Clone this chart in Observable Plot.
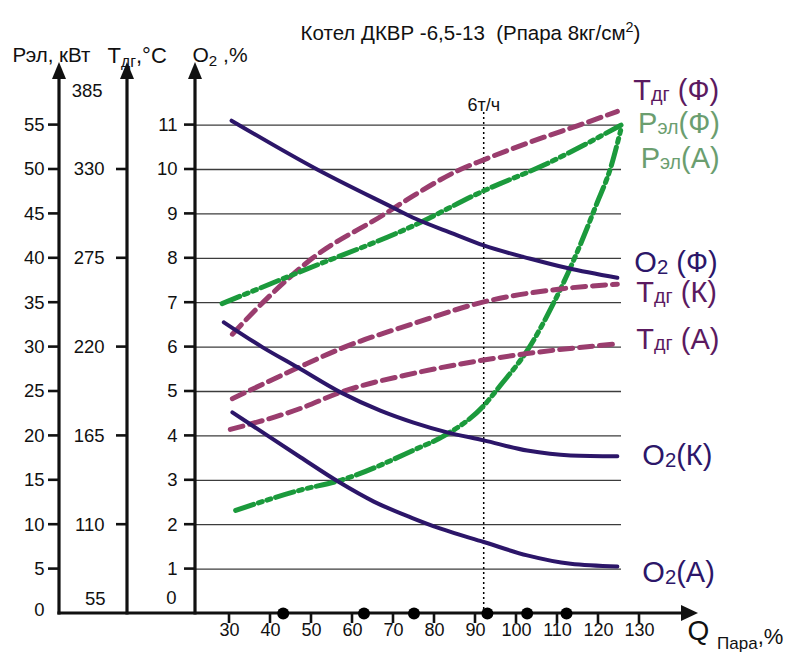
<!DOCTYPE html>
<html><head><meta charset="utf-8">
<script src="https://cdn.jsdelivr.net/npm/d3@7"></script>
<script src="https://cdn.jsdelivr.net/npm/@observablehq/plot@0.6"></script>
<style>body{margin:0;background:#fff}svg{display:block}</style>
</head><body><div id="chart"></div>
<script>
// ---------- data ----------
const chartTitle = "Котел ДКВР -6,5-13  (Рпара 8кг/см2)";
const qTicks = [30, 40, 50, 60, 70, 80, 90, 100, 110, 120, 130];
const o2Ticks = [1, 2, 3, 4, 5, 6, 7, 8, 9, 10, 11];
const o2Labels = [1, 2, 3, 4, 5, 6, 7, 8, 9, 10, 11];
const o2ZeroLabel = [0];
const pTicks = [5, 10, 15, 20, 25, 30, 35, 40, 45, 50, 55];
const pZeroLabel = [0];
const tTicks = [110, 165, 220, 275, 330];
const tBottomLabel = [55];
const tTopLabel = [385];
const dotsQ = [43.1, 62.8, 75.0, 92.9, 102.6, 112.2];
const refQ = [92.0];
const refLabel = "6т/ч";

// O2, %
const o2F_q = [30.5, 51.4, 69.7, 75.4, 84.7, 92.0, 103.4, 112.4, 124.6];
const o2F_v = [11.10, 10.0, 9.15, 8.89, 8.55, 8.29, 7.99, 7.78, 7.56];
const o2K_q = [28.6, 38.0, 46.5, 57.1, 66.8, 74.9, 83.1, 92.0, 102.6, 113.2, 124.6];
const o2K_v = [6.56, 6.0, 5.55, 4.98, 4.57, 4.30, 4.08, 3.90, 3.67, 3.56, 3.54];
const o2A_q = [30.7, 39.2, 47.3, 56.7, 65.2, 74.6, 81.5, 92.0, 102.6, 113.2, 124.6];
const o2A_v = [4.53, 4.01, 3.52, 2.96, 2.52, 2.15, 1.91, 1.61, 1.31, 1.12, 1.06];
// Tдг, °C
const tF_q = [30.7, 38.3, 50.2, 67.6, 75.0, 86.3, 92.0, 106.7, 114.8, 124.6];
const tF_v = [228, 248, 275, 302, 314, 330, 336, 350, 357, 366];
const tK_q = [30.7, 46.5, 57.1, 75.4, 92.0, 110.7, 124.6];
const tK_v = [188, 207, 219, 235, 248, 256, 259];
const tA_q = [30.2, 47.3, 57.1, 75.4, 92.0, 102.6, 124.6];
const tA_v = [169, 182, 192, 204, 212, 216, 222];
// Pэл, кВт
const pF_q = [28.2, 47.3, 75.0, 92.0, 106.7, 125.5];
const pF_v = [34.9, 38.5, 43.7, 47.6, 50.5, 55.0];
const pA_q = [31.5, 47.3, 57.1, 75.4, 82.3, 92.0, 96.1, 102.6, 109.1, 114.8, 119.7, 122.9, 125.4];
const pA_v = [11.6, 13.9, 15.0, 18.5, 20.0, 23.4, 25.7, 29.6, 35.0, 40.7, 46.3, 50.1, 54.4];

const seriesNames = ["Тдг (Ф)", "Рэл(Ф)", "Рэл(А)", "O2 (Ф)", "Тдг (К)", "Тдг (А)", "O2(К)", "O2(А)"];

// ---------- unit conversion onto the shared O2 vertical scale ----------
const fromO2 = v => v;
const fromP = p => p / 5;
const fromT = t => (t - 55) / 27.5;

// ---------- styles / layout ----------
const C = {navy: "#2c1669", maroon: "#9a3d6e", green: "#1b9a3c", tText: "#5b1a60", pText: "#6b9e6f", axis: "#111"};
const FONT = "'Liberation Sans', Arial, sans-serif";
const W = 795, H = 659;
const AX = {pX: 59, tX: 127, oX: 195, top: 62, aH: 17, aW: 7, tick: 11, tipX: 698, xTick: 10, lw: 3.2};
const M = {left: AX.oX, right: W - 621, top: AX.top, bottom: 46};

const styleO2 = {stroke: C.navy, strokeWidth: 4};
const styleT = {stroke: C.maroon, strokeWidth: 5, strokeDasharray: "13,7"};
const styleP = {stroke: C.green, strokeWidth: 5, strokeDasharray: "19,5,4,5,4,5"};

const defs = [
  {name: seriesNames[0], q: tF_q, v: tF_v, f: fromT, st: styleT, col: C.tText, ldx: 16, ldy: -21},
  {name: seriesNames[1], q: pF_q, v: pF_v, f: fromP, st: styleP, col: C.pText, ldx: 17, ldy: -1},
  {name: seriesNames[2], q: pA_q, v: pA_v, f: fromP, st: styleP, col: C.pText, ldx: 20, ldy: 28},
  {name: seriesNames[3], q: o2F_q, v: o2F_v, f: fromO2, st: styleO2, col: C.navy, ldx: 17, ldy: -15},
  {name: seriesNames[4], q: tK_q, v: tK_v, f: fromT, st: styleT, col: C.tText, ldx: 19, ldy: 9},
  {name: seriesNames[5], q: tA_q, v: tA_v, f: fromT, st: styleT, col: C.tText, ldx: 19, ldy: -4},
  {name: seriesNames[6], q: o2K_q, v: o2K_v, f: fromO2, st: styleO2, col: C.navy, ldx: 25, ldy: -1},
  {name: seriesNames[7], q: o2A_q, v: o2A_v, f: fromO2, st: styleO2, col: C.navy, ldx: 25, ldy: 6}
];
const rowsOf = d => d.q.map((q, i) => ({q, y: d.f(d.v[i])}));

// ---------- custom axes (uses Plot's scales) ----------
function axesMark(index, scales) {
  const {x, y} = scales;
  const g = d3.create("svg:g").attr("stroke", C.axis).attr("fill", C.axis);
  const yb = y(0);
  for (const ax of [AX.pX, AX.tX, AX.oX]) {
    g.append("line").attr("x1", ax).attr("x2", ax).attr("y1", yb + AX.lw / 2).attr("y2", AX.top + AX.aH - 1).attr("stroke-width", AX.lw);
    g.append("path").attr("stroke", "none").attr("d", `M${ax},${AX.top}L${ax - AX.aW},${AX.top + AX.aH}L${ax + AX.aW},${AX.top + AX.aH}Z`);
  }
  g.append("line").attr("x1", AX.pX - AX.lw / 2).attr("x2", AX.tipX - AX.aH + 1).attr("y1", yb).attr("y2", yb).attr("stroke-width", AX.lw);
  g.append("path").attr("stroke", "none").attr("d", `M${AX.tipX},${yb}L${AX.tipX - AX.aH},${yb - AX.aW - 1}L${AX.tipX - AX.aH},${yb + AX.aW + 1}Z`);
  const tk = (x1, x2, yy) => g.append("line").attr("x1", x1).attr("x2", x2).attr("y1", yy).attr("y2", yy).attr("stroke-width", 2.6);
  pTicks.forEach(p => tk(AX.pX - AX.tick, AX.pX, y(fromP(p))));
  tTicks.forEach(t => tk(AX.tX - AX.tick, AX.tX, y(fromT(t))));
  o2Ticks.forEach(o => tk(AX.oX - AX.tick, AX.oX, y(fromO2(o))));
  qTicks.forEach(q => g.append("line").attr("x1", x(q)).attr("x2", x(q)).attr("y1", yb).attr("y2", yb + AX.xTick).attr("stroke-width", 2.6));
  return g.node();
}

const tickText = (data, f, rightEdge, extra = {}) => Plot.text(data, {
  y: d => f(d), text: d => String(d), frameAnchor: "left", dx: rightEdge - M.left, textAnchor: "end",
  fontSize: 18.5, fill: C.axis, ...extra
});

const marks = [
  Plot.ruleY(o2Ticks, {stroke: "#3c3c3c", strokeWidth: 1.3}),
  Plot.ruleX(refQ, {stroke: "#000", strokeWidth: 1.5, strokeDasharray: "2,3", insetTop: 50}),
  axesMark,
  ...defs.map(d => Plot.line(rowsOf(d), {x: "q", y: "y", curve: "monotone-x", ...d.st})),
  Plot.dot(dotsQ, {x: d => d, y: () => 0, r: 6, fill: "#000"}),
  // tick labels
  tickText(pTicks, fromP, 44),
  tickText(pZeroLabel, fromP, 44, {dy: -3}),
  tickText(tTicks, fromT, 104),
  tickText(tBottomLabel, fromT, 105, {dy: -14}),
  tickText(tTopLabel, fromT, 102, {dy: 10}),
  tickText(o2Labels, fromO2, 177),
  tickText(o2ZeroLabel, fromO2, 176, {dy: -15}),
  Plot.text(qTicks, {x: d => d, text: d => String(d), frameAnchor: "bottom", dy: 22, fontSize: 18, fill: C.axis}),
  // axis titles
  Plot.text(["Рэл, кВт"], {frameAnchor: "top-left", dx: 12 - M.left, dy: -15, textAnchor: "start", fontSize: 20.5, fill: C.axis}),
  Plot.text(["Тдг,°C"], {frameAnchor: "top-left", dx: 107 - M.left, dy: -15, textAnchor: "start", fontSize: 22, fill: C.axis}),
  Plot.text(["O2 ,%"], {frameAnchor: "top-left", dx: 192 - M.left, dy: -15, textAnchor: "start", fontSize: 21, fill: C.axis}),
  Plot.text(["Q Пара,%"], {frameAnchor: "bottom-right", dx: 687 - (W - M.right), dy: 26, textAnchor: "start", fontSize: 28, fill: C.axis}),
  // title and reference label
  Plot.text([chartTitle], {frameAnchor: "top", dx: 470 - (M.left + (W - M.right)) / 2, dy: 25 - M.top, fontSize: 20.5, fill: C.axis}),
  Plot.text([refLabel], {x: () => refQ[0], frameAnchor: "top", dy: 36, fontSize: 18, fill: C.axis}),
  // series labels
  ...defs.map(d => Plot.text([d], {
    x: s => s.q[s.q.length - 1], y: s => s.f(s.v[s.v.length - 1]), text: s => s.name,
    dx: d.ldx, dy: d.ldy, textAnchor: "start", fontSize: 29, fill: d.col
  }))
];

const svg = Plot.plot({
  width: W, height: H,
  marginLeft: M.left, marginRight: M.right, marginTop: M.top, marginBottom: M.bottom,
  style: {fontFamily: FONT, background: "#fff", overflow: "visible"},
  x: {domain: [30, 130], range: [229, 639], axis: null},
  y: {domain: [0, 11], range: [613, 124.6], axis: null},
  marks
});

// ---------- rich text (sub/superscripts) ----------
const sub = (s, size = "0.68em", dy = 0) => [s, size, dy];
const rich = {
  "Тдг (Ф)": [["Т"], sub("дг", "0.68em", 1), [" (Ф)"]],
  "Тдг (К)": [["Т"], sub("дг", "0.68em", 1), [" (К)"]],
  "Тдг (А)": [["Т"], sub("дг", "0.68em", 1), [" (А)"]],
  "Рэл(Ф)": [["Р"], sub("эл", "0.68em", 1), ["(Ф)"]],
  "Рэл(А)": [["Р"], sub("эл", "0.68em", 1), ["(А)"]],
  "O2 (Ф)": [["O"], sub("2", "0.7em", 2), [" (Ф)"]],
  "O2(К)": [["O"], sub("2", "0.7em", 2), ["(К)"]],
  "O2(А)": [["O"], sub("2", "0.7em", 2), ["(А)"]],
  "Тдг,°C": [["Т"], sub("дг", "0.72em", 4), [",°C"]],
  "O2 ,%": [["O"], sub("2", "0.72em", 4), [" ,%"]],
  "Q Пара,%": [["Q "], sub("Пара", "17px", 9), [",%", "22px", 4]],
  [chartTitle]: [["Котел ДКВР -6,5-13  (Рпара 8кг/см"], ["2", "0.7em", -8], [")"]]
};
svg.querySelectorAll("text").forEach(el => {
  const segs = rich[el.textContent];
  if (!segs) return;
  while (el.firstChild) el.removeChild(el.firstChild);
  let shift = 0;
  for (const [s, size, dy = 0] of segs) {
    const ts = document.createElementNS("http://www.w3.org/2000/svg", "tspan");
    ts.textContent = s;
    if (size) ts.setAttribute("font-size", size);
    if (dy !== shift) { ts.setAttribute("dy", dy - shift); shift = dy; }
    el.appendChild(ts);
  }
  el.style.whiteSpace = "pre";
});
document.getElementById("chart").appendChild(svg);
</script>
</body></html>
